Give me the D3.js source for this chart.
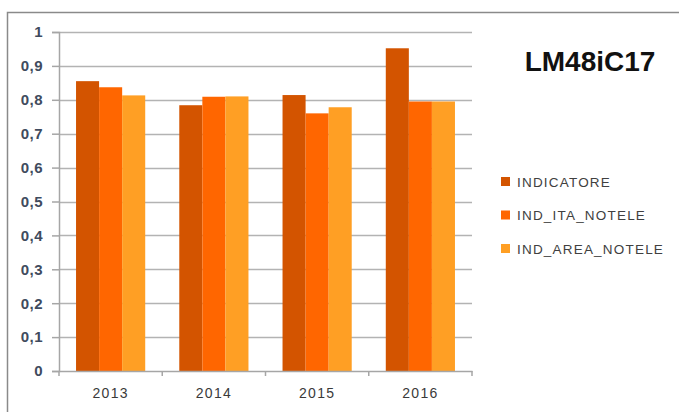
<!DOCTYPE html>
<html>
<head>
<meta charset="utf-8">
<script src="https://cdn.jsdelivr.net/npm/d3@7"></script>
<style>
  body { margin: 0; background: #fff; }
  svg { display: block; font-family: "Liberation Sans", Arial, sans-serif; }
</style>
</head>
<body>
<svg id="chart" width="679" height="412"></svg>
<script>
// chart data
const years = ['2013', '2014', '2015', '2016'];
const seriesNames = ['INDICATORE', 'IND_ITA_NOTELE', 'IND_AREA_NOTELE'];
const indicatore = [0.855, 0.784, 0.814, 0.952];
const indItaNotele = [0.837, 0.809, 0.760, 0.795];
const indAreaNotele = [0.813, 0.810, 0.778, 0.795];
const yTicks = [0, 0.1, 0.2, 0.3, 0.4, 0.5, 0.6, 0.7, 0.8, 0.9, 1];
const chartTitle = 'LM48iC17';

const colors = ['#D35400', '#FF6600', '#FF9F24'];
const seriesValues = [indicatore, indItaNotele, indAreaNotele];

const margin = { top: 32, right: 207, bottom: 41, left: 59 };
const svg = d3.select('#chart');
const width = +svg.attr('width');
const height = +svg.attr('height');

// outer chart frame (cropped on right and bottom)
svg.append('rect')
    .attr('x', 7.5)
    .attr('y', 12.5)
    .attr('width', 720)
    .attr('height', 440)
    .attr('fill', '#fff')
    .attr('stroke', '#8a8a8a')
    .attr('stroke-width', 1.5);

const x0 = d3.scaleBand()
    .domain(years)
    .range([margin.left, width - margin.right])
    .paddingInner(0.33)
    .paddingOuter(0.165);

const x1 = d3.scaleBand()
    .domain(seriesNames)
    .range([0, x0.bandwidth()]);

const y = d3.scaleLinear()
    .domain([0, 1])
    .range([height - margin.bottom, margin.top]);

const locale = d3.formatLocale({ decimal: ',', thousands: '.', grouping: [3], currency: ['', '€'] });
const fmt = locale.format('~g');

// gridlines
svg.append('g')
    .selectAll('line')
    .data(yTicks.slice(1))
    .enter()
    .append('line')
    .attr('x1', margin.left)
    .attr('x2', width - margin.right)
    .attr('y1', (d) => Math.round(y(d)) + 0.5)
    .attr('y2', (d) => Math.round(y(d)) + 0.5)
    .attr('stroke', '#b3b3b3')
    .attr('stroke-width', 1.5);

// bars
const groups = svg.append('g')
    .selectAll('g')
    .data(years)
    .enter()
    .append('g')
    .attr('transform', (d) => `translate(${x0(d)},0)`);

groups.selectAll('rect')
    .data((d, i) => seriesNames.map((s, k) => ({ s, k, v: seriesValues[k][i] })))
    .enter()
    .append('rect')
    .attr('x', (d) => x1(d.s))
    .attr('width', x1.bandwidth())
    .attr('y', (d) => y(d.v))
    .attr('height', (d) => y(0) - y(d.v))
    .attr('fill', (d) => colors[d.k]);

// y axis
const yAxis = svg.append('g')
    .attr('transform', `translate(${margin.left},0)`)
    .call(d3.axisLeft(y).tickValues(yTicks).tickFormat(fmt).tickSize(7).tickPadding(9));
yAxis.select('.domain').attr('stroke', '#a6a6a6').attr('stroke-width', 1.5);
yAxis.selectAll('.tick line').attr('stroke', '#a6a6a6').attr('stroke-width', 1.5);
yAxis.selectAll('.tick text')
    .attr('fill', '#3f4b5e')
    .style('font-size', '15px')
    .style('font-weight', 'bold')
    .style('letter-spacing', '0.5px');

// x axis
const xAxis = svg.append('g')
    .attr('transform', `translate(0,${y(0)})`)
    .call(d3.axisBottom(x0).tickSize(0).tickPadding(17));
xAxis.select('.domain').attr('stroke', '#a6a6a6').attr('stroke-width', 1.5);
xAxis.selectAll('.tick text')
    .attr('fill', '#3a3a3a')
    .style('font-size', '14px')
    .style('letter-spacing', '1.3px');

// x category separators
const step = x0.step();
svg.append('g')
    .selectAll('line')
    .data(d3.range(years.length + 1))
    .enter()
    .append('line')
    .attr('x1', (i) => margin.left + i * step)
    .attr('x2', (i) => margin.left + i * step)
    .attr('y1', y(0))
    .attr('y2', y(0) + 5)
    .attr('stroke', '#a6a6a6')
    .attr('stroke-width', 1.5);

// title
svg.append('text')
    .attr('x', 590)
    .attr('y', 71)
    .attr('text-anchor', 'middle')
    .attr('fill', '#111')
    .style('font-size', '28px')
    .style('font-weight', 'bold')
    .text(chartTitle);

// legend
const legend = svg.append('g')
    .attr('transform', 'translate(501,177)')
    .selectAll('g')
    .data(seriesNames)
    .enter()
    .append('g')
    .attr('transform', (d, i) => `translate(0,${i * 33.5})`);

legend.append('rect')
    .attr('width', 9)
    .attr('height', 9)
    .attr('fill', (d, i) => colors[i]);

legend.append('text')
    .attr('x', 16)
    .attr('y', 9.5)
    .attr('fill', '#404040')
    .style('font-size', '13.5px')
    .style('letter-spacing', '1.2px')
    .text((d) => d);
</script>
</body>
</html>
